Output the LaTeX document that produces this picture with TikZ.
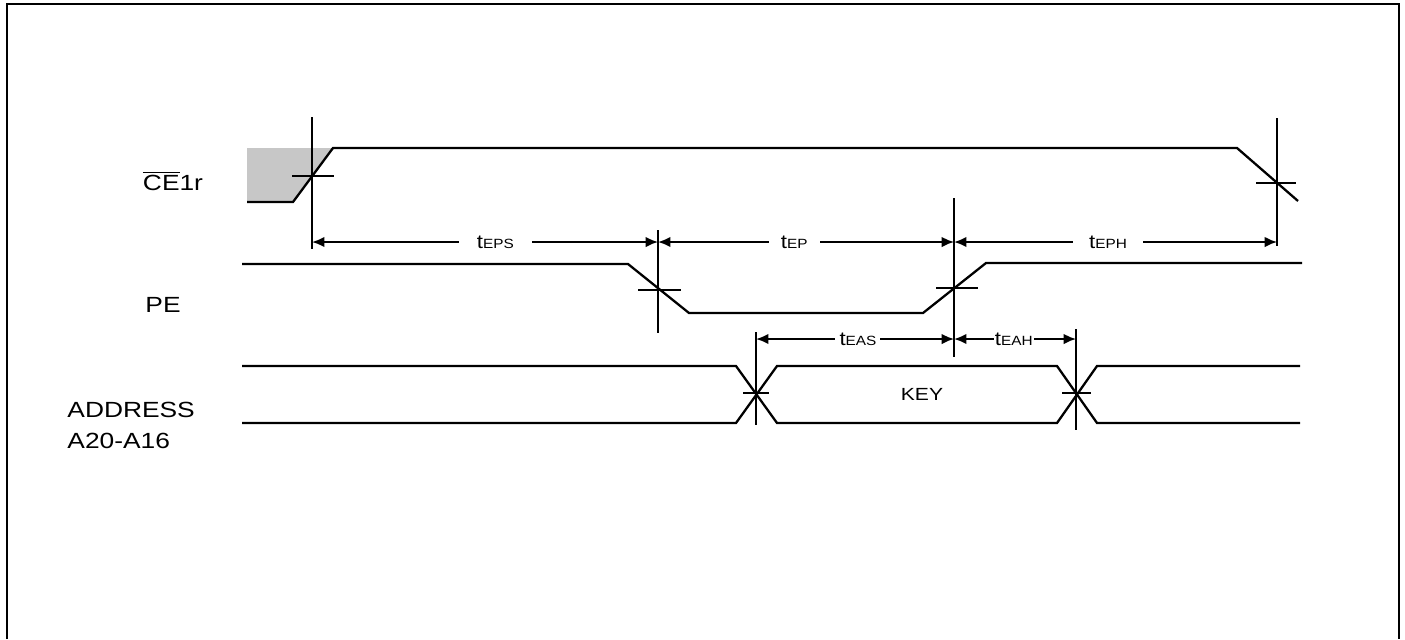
\documentclass[tikz,border=0pt]{standalone}
\usepackage{fontspec}
\setmainfont{Liberation Sans}
\usetikzlibrary{arrows.meta}

\tikzset{
    sig/.style={line width=1.3pt, line join=miter},
    marker/.style={line width=0.95pt},
    tickmark/.style={line width=0.8pt},
    dimline/.style={line width=1.15pt, {Latex[length=7pt,width=6pt]}-{Latex[length=7pt,width=6pt]}},
    siglabel/.style={font=\fontsize{12.5}{17.6}\selectfont, xscale=1.2, inner sep=0pt},
    tlabel/.style={fill=white, inner ysep=1pt, xscale=1.15}
}
\newcommand{\tsub}[1]{{\fontsize{11}{12}\selectfont t}{\fontsize{7.6}{9}\selectfont #1}}

\begin{document}
\begin{tikzpicture}[x=0.02cm, y=-0.02cm]
    \useasboundingbox (0,0) rectangle (1405,639);

    % Frame (open at the bottom)
    \draw[line width=1.6pt] (7,639) -- (7,4) -- (1399,4) -- (1399,639);

    % Signal names
    \node[siglabel] (ce) at (173,181) {$\overline{\mbox{CE}}$1r};
    \node[siglabel] (pe) at (163,305) {PE};
    \node[siglabel, anchor=west, align=left] (addr) at (67,425) {ADDRESS\\A20-A16};

    % CE1r waveform with the shaded don't-care part
    \fill[black!22] (247,148) -- (333,148) -- (293,202) -- (247,202) -- cycle;
    \draw[sig] (247,202) -- (293,202) -- (333,148) -- (1237,148) -- (1298,201);

    % PE waveform
    \draw[sig] (242,264) -- (628,264) -- (689,313) -- (923,313) -- (986,263) -- (1302,263);

    % Address bus
    \draw[sig] (242,366) -- (736,366) -- (777,423) -- (1057,423) -- (1097,366) -- (1300,366);
    \draw[sig] (242,423) -- (736,423) -- (777,366) -- (1057,366) -- (1097,423) -- (1300,423);
    \node[font=\fontsize{10}{12}\selectfont, xscale=1.2] (key) at (922,394) {KEY};

    % Crossing ticks
    \foreach \xa/\xb/\y in {292/334/176, 638/681/290, 936/978/288, 1256/1296/183, 743/769/393, 1062/1091/393} {
        \draw[tickmark] (\xa,\y) -- (\xb,\y);
    }

    % Marker lines (name/x/top/bottom)
    \foreach \n/\x/\t/\b in {ma/312/117/249, mb/658/230/333, mc/954/198/357,
                             md/1277/118/246, me/756/332/425, mf/1076/329/430} {
        \coordinate (\n-top) at (\x,\t);
        \coordinate (\n-bot) at (\x,\b);
        \draw[marker] (\n-top) -- (\n-bot);
    }

    % Timing arrows
    \coordinate (lvlA) at (0,242);
    \coordinate (lvlB) at (0,339);
    \draw[dimline] (ma-top |- lvlA) -- (mb-top |- lvlA)
        node[tlabel, pos=0.53, inner xsep=9pt] (teps) {\tsub{EPS}};
    \draw[dimline] (mb-top |- lvlA) -- (mc-top |- lvlA)
        node[tlabel, pos=0.46, inner xsep=6pt] (tep) {\tsub{EP}};
    \draw[dimline] (mc-top |- lvlA) -- (md-top |- lvlA)
        node[tlabel, pos=0.477, inner xsep=8pt] (teph) {\tsub{EPH}};
    \draw[dimline] (me-top |- lvlB) -- (mc-top |- lvlB)
        node[tlabel, pos=0.515, inner xsep=2pt] (teas) {\tsub{EAS}};
    \draw[dimline] (mc-top |- lvlB) -- (mf-top |- lvlB)
        node[tlabel, pos=0.49, inner xsep=0.5pt] (teah) {\tsub{EAH}};

\end{tikzpicture}
\end{document}
